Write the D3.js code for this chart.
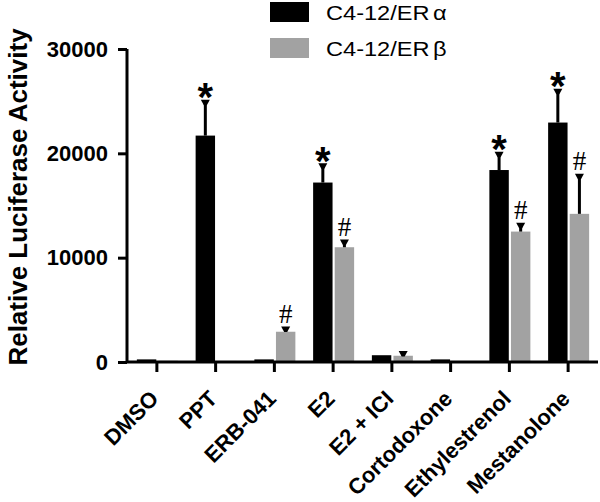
<!DOCTYPE html>
<html><head><meta charset="utf-8">
<script src="https://cdn.jsdelivr.net/npm/d3@7"></script>
<style>body{margin:0;background:#fff}svg{display:block}</style>
</head><body>
<script>
const categories = ["DMSO","PPT","ERB-041","E2","E2 + ICI","Cortodoxone","Ethylestrenol","Mestanolone"];
const seriesNames = ["C4-12/ERα","C4-12/ERβ"];
const alphaValues = [250, 21700, 250, 17200, 650, 250, 18400, 22950];
const alphaErrors = [40, 3300, 30, 1700, 60, 40, 1600, 3100];
const betaValues  = [120, 100, 2900, 11000, 600, 60, 12500, 14200];
const betaErrors  = [20, 20, 350, 600, 300, 10, 700, 3700];
const alphaMarks  = ["", "*", "", "*", "", "", "*", "*"];
const betaMarks   = ["", "", "#", "#", "", "", "#", "#"];
const yTicks = [0, 10000, 20000, 30000];

const W = 600, H = 502;
const svg = d3.select("body").append("svg").attr("width", W).attr("height", H);
const SANS = "Liberation Sans, Arial, sans-serif";

const x = d3.scalePoint().domain(categories).range([127, 597]).padding(0.5);
const x1 = d3.scaleBand().domain(seriesNames).range([-19.5, 21.5]).paddingInner(0.1);
const y = d3.scaleLinear().domain([0, 30000]).range([362, 49]);
const colors = {"C4-12/ERα": "#000000", "C4-12/ERβ": "#a2a2a2"};

const series = [
  {name: seriesNames[0], values: alphaValues, errors: alphaErrors, marks: alphaMarks},
  {name: seriesNames[1], values: betaValues, errors: betaErrors, marks: betaMarks}
];

const data = [];
series.forEach(s => categories.forEach((c, i) => data.push({cat: c, name: s.name, v: s.values[i], e: s.errors[i], m: s.marks[i]})));

// bars
svg.append("g").selectAll("rect").data(data).join("rect")
  .attr("x", d => x(d.cat) + x1(d.name))
  .attr("width", x1.bandwidth())
  .attr("y", d => y(d.v))
  .attr("height", d => y(0) - y(d.v))
  .attr("fill", d => colors[d.name]);

// error bars
const eg = svg.append("g").attr("stroke", "#000");
data.forEach(d => {
  const cx = x(d.cat) + x1(d.name) + x1.bandwidth() / 2;
  if (d.e < 80) return;
  const t = y(d.v + d.e);
  eg.append("line").attr("x1", cx).attr("x2", cx).attr("y1", y(d.v)).attr("y2", t).attr("stroke-width", 3);
  eg.append("path").attr("d", `M${cx-4.5},${t-1.5}L${cx+4.5},${t-1.5}L${cx+1.5},${t+4}L${cx-1.5},${t+4}Z`).attr("fill", "#000").attr("stroke", "none");
});

// significance marks
data.filter(d => d.m).forEach(d => {
  const cx = x(d.cat) + x1(d.name) + x1.bandwidth() / 2;
  const top = y(d.v + d.e);
  if (d.m === "*") {
    svg.append("text").attr("x", cx).attr("y", top + 10).attr("text-anchor", "middle")
      .attr("font-family", SANS).attr("font-weight", "bold")
      .attr("font-size", 40).text(d.m);
  } else {
    svg.append("text").attr("x", cx).attr("y", top - 5).attr("text-anchor", "middle")
      .attr("font-family", "Liberation Serif, Times New Roman, serif")
      .attr("font-size", 27).text(d.m);
  }
});

// y axis
const yAxis = svg.append("g").attr("transform", "translate(127,0)")
  .call(d3.axisLeft(y).tickValues(yTicks).tickSize(9).tickPadding(10).tickFormat(d3.format("d")));
yAxis.select(".domain").attr("stroke-width", 3).attr("d", `M0,${y(30000)}V${y(0)}`);
yAxis.selectAll(".tick line").attr("stroke-width", 3);
yAxis.selectAll("text").attr("font-family", SANS)
  .attr("font-weight", "bold").attr("font-size", 22).attr("fill", "#000");

// x axis
const xAxis = svg.append("g").attr("transform", `translate(0,${y(0)})`)
  .call(d3.axisBottom(x).tickSize(10).tickPadding(6));
xAxis.select(".domain").attr("stroke-width", 3).attr("d", "M127,0H598");
xAxis.selectAll(".tick line").attr("stroke-width", 3);
xAxis.selectAll("text").attr("font-family", SANS)
  .attr("font-weight", "bold").attr("font-size", 22).attr("fill", "#000")
  .attr("text-anchor", "end").attr("dy", null).attr("y", 0)
  .attr("transform", "translate(3,38) rotate(-45)");

// y title
svg.append("text").attr("transform", "translate(27,197) rotate(-90)")
  .attr("text-anchor", "middle").attr("font-family", SANS)
  .attr("font-weight", "bold").attr("font-size", 26).text("Relative Luciferase Activity");

// legend
const lg = svg.append("g");
seriesNames.forEach((n, i) => {
  lg.append("rect").attr("x", 270).attr("y", 2 + i * 36).attr("width", 39).attr("height", 20).attr("fill", colors[n]);
  const t = lg.append("text").attr("transform", `translate(326,${20 + i * 36}) scale(1.18,1)`)
    .attr("font-family", SANS).attr("font-size", 20);
  t.append("tspan").text(n.slice(0, -1));
  t.append("tspan").attr("dx", 3).text(n.slice(-1));
});
</script>
</body></html>
